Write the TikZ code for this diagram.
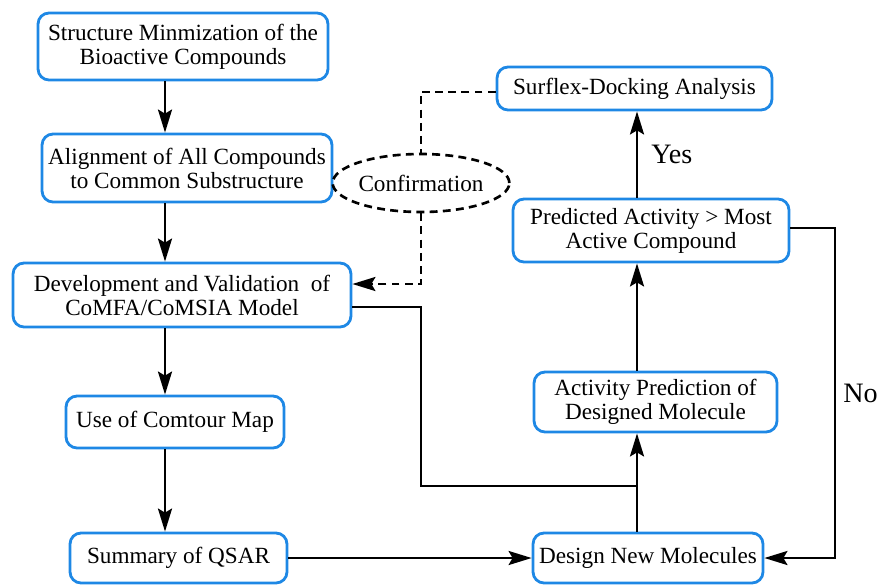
\documentclass[tikz,border=0pt]{standalone}
\usepackage{fontspec}
\setmainfont{Liberation Serif}
\usetikzlibrary{arrows.meta,shapes.geometric}
\definecolor{boxblue}{RGB}{30,136,229}

\begin{document}
\begin{tikzpicture}[x=0.02cm,y=-0.02cm,
    stepbox/.style={draw=boxblue, line width=1.6pt, rounded corners=0.22cm, fill=white,
      align=center, inner sep=0pt, font=\fontsize{13.2}{13.7}\selectfont},
    link/.style={line width=1.5pt},
    arr/.style={line width=1.5pt, -{Stealth[length=0.46cm,width=0.28cm,inset=0.08cm]}},
    dashlink/.style={line width=1.5pt, dash pattern=on 4.5pt off 3pt},
    answer/.style={inner sep=0pt, font=\fontsize{16}{18}\selectfont}]
    \useasboundingbox (0,0) rectangle (878,585);

    % Left column
    \node[stepbox, minimum width=5.8cm, minimum height=1.34cm] (struct) at (183,46.5)
        {Structure Minmization of the\\Bioactive Compounds};
    \node[stepbox, minimum width=5.8cm, minimum height=1.36cm] (align) at (187,168)
        {Alignment of All Compounds\\to Common Substructure};
    \node[stepbox, minimum width=6.76cm, minimum height=1.28cm] (devel) at (182,295)
        {Development and Validation~~of\\CoMFA/CoMSIA Model};
    \node[stepbox, minimum width=4.36cm, minimum height=1.04cm] (contour) at (175,422)
        {Use of Comtour Map};
    \node[stepbox, minimum width=4.34cm, minimum height=1.0cm] (summary) at (178.5,558)
        {Summary of QSAR};

    % Right column
    \node[stepbox, minimum width=5.5cm, minimum height=0.86cm] (surflex) at (634.5,88.5)
        {Surflex-Docking Analysis};
    \node[stepbox, minimum width=5.52cm, minimum height=1.26cm] (predicted) at (651,230.5)
        {Predicted Activity > Most\\Active Compound};
    \node[stepbox, minimum width=4.86cm, minimum height=1.2cm] (activity) at (655.5,402)
        {Activity Prediction of\\Designed Molecule};
    \node[stepbox, minimum width=4.6cm, minimum height=1.0cm] (design) at (648,558)
        {Design New Molecules};

    % Confirmation
    \node[ellipse, draw, dashlink, minimum width=2.96cm, minimum height=1.16cm, inner sep=0pt,
        font=\fontsize{13.2}{13.7}\selectfont] (confirm) at (421,183) {Confirmation};

    \coordinate (lcol) at (165,0);
    \coordinate (rcol) at (637,0);
    \coordinate (join) at (637,486);
    \coordinate (noturn) at (835,0);

    % Left arrows
    \draw[arr] (struct.south -| lcol) -- (align.north -| lcol);
    \draw[arr] (align.south -| lcol) -- (devel.north -| lcol);
    \draw[arr] (devel.south -| lcol) -- (contour.north -| lcol);
    \draw[arr] (contour.south -| lcol) -- (summary.north -| lcol);
    \draw[arr] (summary.east) -- (design.west);

    % Right arrows
    \draw[arr] (design.north -| rcol) -- (activity.south -| rcol);
    \draw[arr] (activity.north -| rcol) -- (predicted.south -| rcol);
    \draw[arr] (predicted.north -| rcol) -- node[answer, right=0.26cm] (yes) {Yes} (surflex.south -| rcol);
    \draw[arr] ([yshift=0.05cm]predicted.east) -| node[answer, pos=0.75, right=0.14cm] (no) {No} (noturn |- design.east) -- (design.east);
    \draw[link] ([yshift=-0.24cm]devel.east) -| (confirm.south |- join) -- (join);

    % Dashed loop
    \draw[dashlink] ([yshift=-0.07cm]surflex.west) -| (confirm.north);
    \draw[dashlink, -{Stealth[length=0.46cm,width=0.28cm,inset=0.08cm]}] (confirm.south) |- ([yshift=0.22cm]devel.east);
\end{tikzpicture}
\end{document}
